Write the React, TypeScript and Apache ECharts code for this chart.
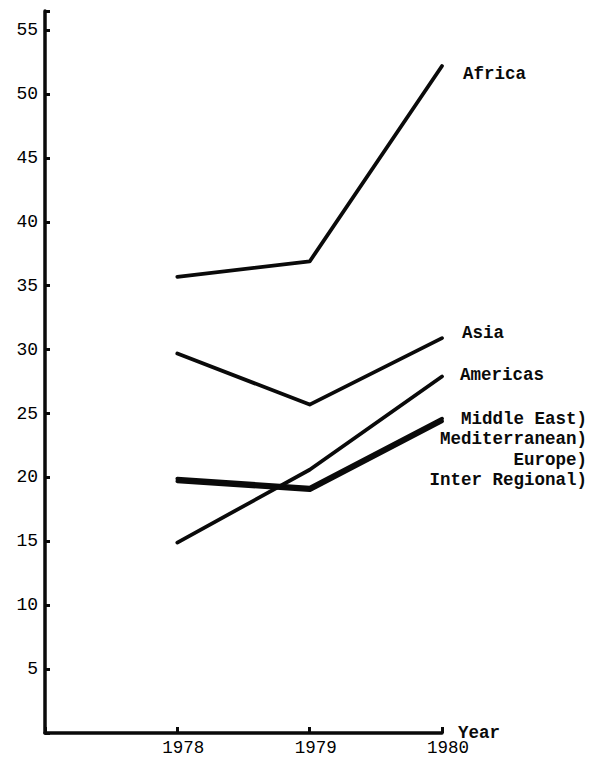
import React, { useEffect, useRef } from 'react';
import * as echarts from 'echarts';

const years = [1978, 1979, 1980];
const africa = [35.7, 36.9, 52.2];
const asia = [29.7, 25.7, 30.9];
const americas = [14.9, 20.6, 27.9];
const middleEastGroupA = [19.9, 19.2, 24.6];
const middleEastGroupB = [19.7, 19.0, 24.4];
const groupLabelLines = ['Middle East)', 'Mediterranean)', 'Europe)', 'Inter Regional)'];

const MONO = '"Liberation Mono", "DejaVu Sans Mono", monospace';
const INK = '#0a0a0a';

function pairs(vals: number[]) {
  return years.map((y, i) => [y, vals[i]]);
}

export default function App() {
  const ref = useRef<HTMLDivElement>(null);
  useEffect(() => {
    document.body.style.margin = '0';
    const chart = echarts.init(ref.current!, undefined, { renderer: 'svg' });
    const lineStyle = { color: INK, width: 3.8, cap: 'round', join: 'round' };
    const labelText = { fontFamily: MONO, fontWeight: 'bold', fontSize: 17.5, color: INK };
    chart.setOption({
      animation: false,
      backgroundColor: '#ffffff',
      grid: { left: 45, right: 157, top: 11, bottom: 26, outerBoundsMode: 'none' },
      xAxis: {
        type: 'value',
        min: 1977,
        max: 1980,
        interval: 1,
        splitLine: { show: false },
        name: 'Year',
        nameLocation: 'end',
        nameGap: 16,
        nameMoveOverlap: false,
        nameTextStyle: { ...labelText, align: 'left', verticalAlign: 'middle', padding: [0, 0, 6, 0] },
        axisLine: { show: true, lineStyle: { color: INK, width: 3.5 } },
        axisTick: { show: true, inside: true, length: 6, lineStyle: { color: INK, width: 3 } },
        axisLabel: {
          fontFamily: MONO,
          fontSize: 17.5,
          color: '#000',
          margin: 6,
          padding: [0, 0, 0, 12],
          formatter: (v: number) => (years.includes(v) ? String(v) : ''),
        },
      },
      yAxis: {
        type: 'value',
        min: 0,
        max: 56.5,
        interval: 5,
        splitLine: { show: false },
        axisLine: { show: true, lineStyle: { color: INK, width: 3.5 } },
        axisTick: { show: true, inside: true, length: 5, lineStyle: { color: INK, width: 3 } },
        axisLabel: {
          fontFamily: MONO,
          fontSize: 18,
          color: '#000',
          margin: 7,
          formatter: (v: number) => (v > 0 && v <= 55 && v % 5 === 0 ? String(v) : ''),
        },
      },
      series: [
        {
          name: 'Africa',
          type: 'line',
          data: pairs(africa),
          symbol: 'none',
          lineStyle,
          endLabel: { show: true, formatter: 'Africa', distance: 21, offset: [0, 8], ...labelText },
        },
        {
          name: 'Asia',
          type: 'line',
          data: pairs(asia),
          symbol: 'none',
          lineStyle,
          endLabel: { show: true, formatter: 'Asia', distance: 20, offset: [0, -5], ...labelText },
        },
        {
          name: 'Americas',
          type: 'line',
          data: pairs(americas),
          symbol: 'none',
          lineStyle,
          endLabel: { show: true, formatter: 'Americas', distance: 18, offset: [0, -1], ...labelText },
        },
        {
          name: 'Middle East group A',
          type: 'line',
          data: pairs(middleEastGroupA),
          symbol: 'none',
          lineStyle,
          endLabel: {
            show: true,
            formatter: groupLabelLines.join('\n'),
            distance: 5,
            align: 'right',
            verticalAlign: 'top',
            lineHeight: 20.5,
            offset: [140, -10],
            ...labelText,
          },
        },
        {
          name: 'Middle East group B',
          type: 'line',
          data: pairs(middleEastGroupB),
          symbol: 'none',
          lineStyle,
        },
      ],
    });
    return () => chart.dispose();
  }, []);
  return <div ref={ref} style={{ width: 599, height: 759 }} />;
}
